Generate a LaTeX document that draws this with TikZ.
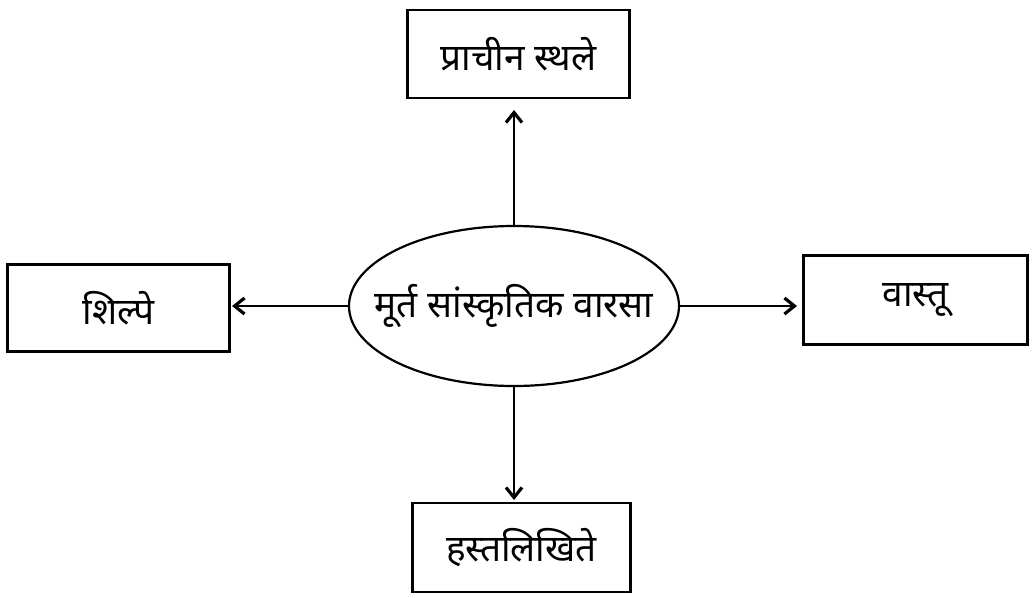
\documentclass[tikz,border=0pt]{standalone}
\usepackage{fontspec}
\newfontfamily\deva[Script=Devanagari]{Noto Sans}
\usetikzlibrary{arrows.meta,shapes.geometric}
\begin{document}
\begin{tikzpicture}[x=1pt,y=-1pt,
  box/.style={draw,line width=2.6pt,inner sep=0pt,font=\deva\fontsize{37}{44}\selectfont},
  hub/.style={draw,ellipse,line width=2.2pt,inner sep=0pt},
  hubtext/.style={inner sep=0pt,font=\deva\fontsize{37}{44}\selectfont},
  link/.style={line width=2pt,-{Straight Barb[length=10pt,width=16pt,line width=3.2pt]}}]
\useasboundingbox (0,0) rectangle (1033,597);
\node[hub,minimum width=330pt,minimum height=160pt] (c) at (514,306) {};
\node[hubtext] (ct) at (c.center) {मूर्त सांस्कृतिक वारसा};
\node[box,minimum width=222pt,minimum height=88pt] (t) at (518.5,54) {प्राचीन स्थले};
\node[box,minimum width=218pt,minimum height=89pt] (b) at (521.5,547.5) {हस्तलिखिते};
\node[box,minimum width=222pt,minimum height=87pt] (l) at (118.5,308) {शिल्पे};
\node[box,minimum width=224pt,minimum height=89pt] (r) at (915.5,300) {वास्तू};
\coordinate (ta) at (514,110);
\coordinate (ba) at (514,500);
\coordinate (la) at (232,306);
\coordinate (ra) at (797,306);
\draw[link] (c.north) -- (ta);
\draw[link] (c.south) -- (ba);
\draw[link] (c.west) -- (la);
\draw[link] (c.east) -- (ra);
\end{tikzpicture}
\end{document}
